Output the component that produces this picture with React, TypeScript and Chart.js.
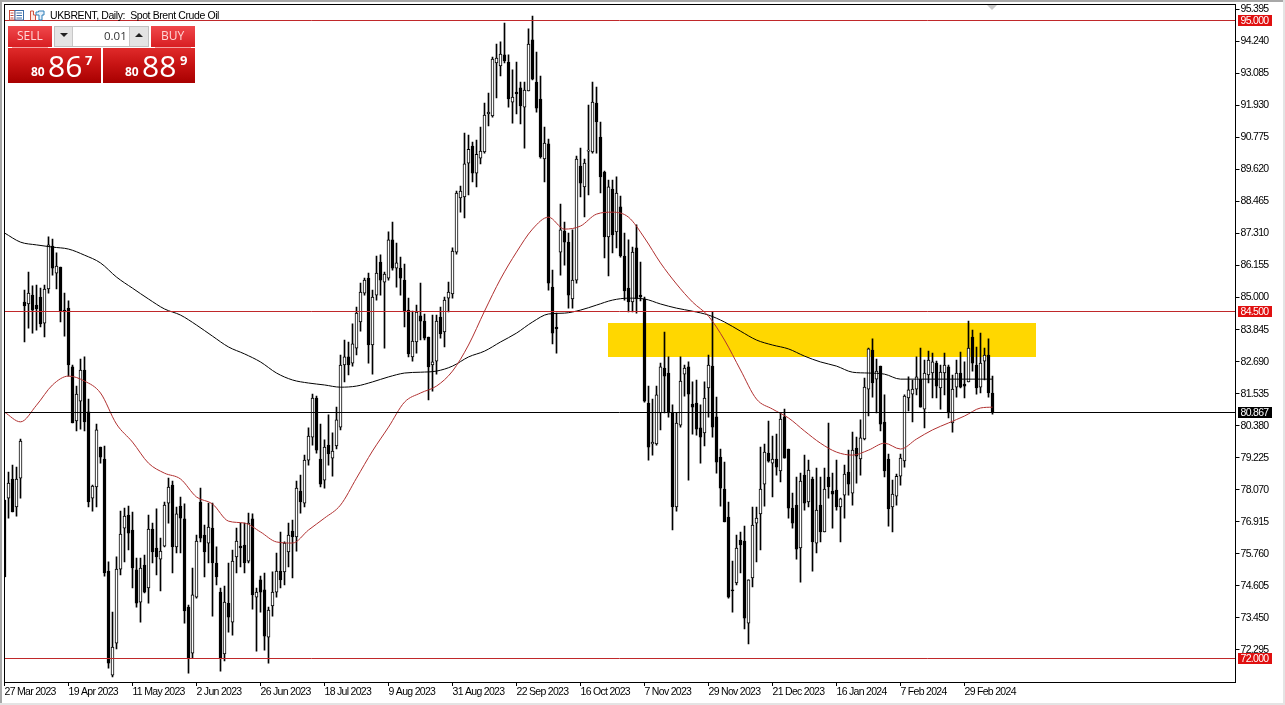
import React, { useEffect, useRef } from "react";
import { Chart, registerables } from "chart.js";

Chart.register(...registerables);

const dateTicks = ["27 Mar 2023","19 Apr 2023","11 May 2023","2 Jun 2023","26 Jun 2023","18 Jul 2023","9 Aug 2023","31 Aug 2023","22 Sep 2023","16 Oct 2023","7 Nov 2023","29 Nov 2023","21 Dec 2023","16 Jan 2024","7 Feb 2024","29 Feb 2024"];
const priceTicks = [95.395,94.24,93.085,91.93,90.775,89.62,88.465,87.31,86.155,85,83.845,82.69,81.535,80.38,79.225,78.07,76.915,75.76,74.605,73.45,72.295];

const highs = [77.70,78.71,78.96,78.89,79.90,85.27,85.92,85.42,85.45,85.34,
85.45,87.19,87.11,86.61,86.10,85.16,84.88,82.57,81.81,82.78,
82.86,81.34,78.24,80.44,79.61,79.65,75.47,73.66,75.65,77.30,
77.41,77.48,77.27,75.61,75.61,75.72,77.16,76.87,77.38,76.33,
77.63,78.49,78.38,77.45,77.81,77.56,73.91,75.25,76.44,78.13,
76.80,77.59,77.59,76.01,74.53,74.60,75.43,75.90,76.69,76.87,
76.87,77.23,77.20,74.53,74.96,75.07,73.84,75.11,75.79,76.55,
76.19,76.87,76.98,78.38,78.60,79.32,80.30,81.52,81.45,80.44,
79.87,80.77,80.12,81.05,82.93,83.47,83.40,84.05,84.66,85.52,
85.70,85.88,85.27,86.50,86.54,85.92,87.37,87.72,86.97,86.46,
86.21,84.98,84.51,84.73,85.52,84.41,83.58,84.37,84.37,84.66,
85.02,85.56,86.79,88.84,89.02,90.93,90.86,90.61,90.68,91.15,
92.01,92.37,93.67,94.14,94.22,94.90,93.75,93.21,93.49,92.77,
92.77,94.69,95.15,93.85,92.99,91.15,90.72,85.99,84.44,88.37,
87.72,87.33,87.44,90.10,90.39,89.99,91.94,92.77,92.59,91.33,
89.56,89.24,89.24,89.35,88.66,87.33,87.08,86.82,87.62,86.28,
85.02,81.81,81.34,81.81,82.64,83.76,82.86,81.13,80.84,82.86,
82.57,82.68,81.96,82.03,81.13,81.96,82.93,84.48,81.41,79.54,
79.07,77.63,75.50,76.44,76.55,76.76,74.82,77.45,77.45,79.61,
79.72,80.55,80.01,80.08,80.84,80.98,79.54,77.95,78.53,78.67,
79.32,79.14,78.53,78.85,78.53,78.85,80.48,78.67,79.14,77.77,
78.96,79.50,80.15,79.97,80.59,82.10,83.18,83.51,82.78,82.53,
81.49,79.36,78.42,78.64,79.36,81.49,82.14,82.03,82.86,83.18,
82.75,83.07,83.00,82.71,82.57,83.00,82.57,82.21,82.75,83.04,
82.68,84.15,83.83,83.22,83.72,83.18,83.51,82.17];

const opens = [77.70,77.77,78.46,77.45,78.49,84.84,84.77,85.09,84.73,85.02,
84.08,85.31,86.86,85.88,86.10,84.55,84.62,82.50,80.55,81.27,
82.39,80.88,77.77,78.17,79.61,79.18,75.14,71.39,72.54,75.21,
76.69,77.16,76.62,75.18,74.02,75.36,74.53,76.65,75.97,75.57,
76.04,77.59,78.24,76.01,77.48,77.02,73.84,72.18,74.20,77.63,
76.44,76.15,76.69,75.43,74.38,72.15,73.98,73.30,75.65,76.04,
76.08,75.50,77.02,74.20,74.82,74.46,72.76,73.88,74.38,75.14,
75.11,75.83,76.58,76.37,78.02,77.59,79.14,79.97,81.38,79.18,
78.42,79.68,79.21,79.65,80.33,82.57,82.86,82.64,83.18,84.12,
85.16,85.70,83.29,85.09,86.28,85.56,85.70,87.08,86.06,86.06,
85.63,84.55,82.86,83.40,84.34,84.15,83.58,82.57,82.71,84.30,
83.76,84.98,85.13,86.64,88.59,88.63,89.85,90.46,89.49,90.03,
90.25,91.62,91.55,93.46,93.35,93.75,93.49,92.05,92.41,92.56,
91.87,92.45,94.29,92.77,92.16,90.00,90.54,85.38,83.94,86.64,
87.40,87.00,84.95,85.63,89.74,88.99,90.28,90.25,92.01,90.79,
89.53,87.19,88.91,87.37,88.27,86.50,85.34,84.84,86.79,85.09,
84.95,81.20,79.72,79.72,80.84,82.46,82.28,80.84,77.45,80.40,
82.24,82.50,81.16,81.20,80.30,80.12,81.74,82.53,80.70,79.25,
78.10,77.09,74.46,74.71,76.26,76.22,73.26,74.89,76.87,77.20,
78.27,79.39,79.03,79.18,78.75,80.70,79.54,77.41,77.52,75.97,
78.60,77.63,78.46,76.15,77.52,76.55,78.53,78.02,78.06,77.45,
77.88,78.71,77.95,79.57,79.18,79.90,81.70,83.11,82.06,82.53,
80.51,79.18,77.45,77.84,78.56,79.11,81.38,81.52,81.70,82.06,
80.98,82.21,82.28,82.64,81.74,82.28,82.50,80.48,81.77,82.28,
81.88,81.96,83.58,82.57,81.77,82.71,82.93,81.56];

const lows = [74.93,77.05,77.27,77.12,77.77,83.40,83.90,83.72,83.83,83.94,
83.58,85.16,85.81,85.31,84.12,83.61,82.17,80.48,80.19,80.26,
80.19,77.45,77.30,77.45,79.03,74.96,71.64,71.32,72.33,75.00,
75.47,75.90,74.53,73.84,73.30,74.35,73.98,75.43,75.00,74.42,
76.01,76.87,75.07,75.79,75.79,73.26,71.46,72.00,74.16,76.19,
74.93,75.43,73.51,74.64,71.53,71.90,72.94,72.83,75.07,75.29,
75.07,75.43,73.77,72.25,73.66,72.29,71.82,73.51,74.20,74.53,
74.64,75.29,74.89,75.86,77.23,77.45,78.96,79.68,79.39,78.17,
78.13,78.96,78.56,79.54,80.23,81.96,82.21,82.53,82.93,83.79,
85.09,82.64,82.24,84.91,85.09,83.18,85.63,85.99,85.38,85.09,
83.94,82.86,82.71,83.00,83.47,83.47,81.31,81.63,82.24,83.54,
83.22,84.48,84.98,86.57,88.08,87.87,88.70,89.17,88.99,89.82,
90.21,91.19,91.51,92.20,92.99,93.46,91.87,91.29,91.62,91.26,
90.39,92.45,92.85,91.69,90.03,89.17,85.27,83.33,83.00,85.81,
86.17,84.62,84.62,85.52,88.63,87.91,88.70,90.21,90.21,88.77,
86.43,85.78,86.61,86.79,86.46,84.91,84.48,84.48,84.44,84.88,
81.23,79.14,79.32,79.68,80.23,80.84,80.69,76.62,77.30,80.33,
81.45,78.42,80.08,80.04,79.03,79.65,80.69,79.97,78.67,77.48,
76.91,74.16,73.66,74.64,75.07,73.05,72.51,74.57,75.47,75.90,
77.48,79.07,77.81,78.60,78.35,79.21,77.05,76.69,75.57,74.74,
77.34,77.45,75.14,75.79,76.19,76.55,77.77,76.69,77.34,76.19,
77.05,77.88,77.52,78.31,78.60,79.87,80.73,81.41,80.84,80.19,
78.53,76.76,76.55,77.52,78.24,78.89,80.91,80.52,81.49,81.05,
80.30,81.92,81.38,81.38,80.98,81.49,80.66,80.15,81.41,81.74,
81.38,81.96,82.35,81.52,81.56,82.03,81.41,80.80];

const closes = [74.93,78.31,77.27,78.46,79.83,84.70,85.16,84.55,84.59,84.05,
85.31,86.90,86.06,86.14,84.51,84.48,82.57,80.48,81.52,82.39,
80.52,77.63,78.20,80.23,79.25,75.07,71.82,72.40,75.21,76.47,
77.12,76.51,75.25,73.98,75.25,74.38,76.65,75.83,75.65,75.86,
77.52,78.17,76.01,77.20,77.05,73.70,72.00,74.28,76.22,76.33,
75.83,76.73,75.43,74.93,72.00,74.02,73.48,75.50,76.22,75.97,
75.43,76.87,74.28,74.38,74.38,72.79,73.73,74.38,75.14,74.82,
76.15,76.44,76.37,78.13,77.63,79.14,80.01,81.38,79.50,78.27,
79.61,79.36,79.47,80.59,82.57,82.86,82.57,83.33,84.44,85.20,
85.63,83.29,85.02,85.88,85.63,85.85,87.08,86.06,86.25,85.70,
84.48,82.97,83.43,84.48,84.15,83.54,82.50,82.68,84.15,83.69,
84.91,85.20,86.68,88.77,88.84,89.82,90.35,89.49,90.17,90.28,
91.58,91.69,93.60,93.64,93.78,93.53,92.16,92.23,92.34,91.91,
92.48,94.14,92.88,91.83,90.07,90.57,85.52,83.72,83.87,87.44,
87.00,85.09,85.63,89.99,89.13,89.85,90.32,92.05,91.33,89.35,
87.19,88.99,87.26,88.77,86.50,85.24,84.84,86.64,84.95,85.02,
81.27,79.61,79.79,81.49,82.50,82.17,80.84,77.45,80.48,81.99,
82.46,81.52,81.05,80.26,79.97,81.38,82.57,80.33,79.07,78.13,
76.91,74.20,74.42,75.97,76.08,73.44,74.82,76.80,77.05,78.10,
79.43,79.10,79.18,78.89,80.62,79.21,77.41,76.87,75.93,78.38,
77.59,78.78,76.19,77.34,76.55,78.10,78.17,77.91,77.45,77.74,
78.64,78.27,79.50,79.28,79.94,81.77,83.15,81.92,82.35,80.44,
78.75,77.38,77.92,78.56,79.21,81.45,81.67,81.70,82.14,81.05,
82.28,82.75,82.68,81.81,82.31,82.57,80.84,81.70,82.28,81.77,
81.81,83.18,82.64,81.74,82.64,82.93,81.56,80.87];

// Moving averages every fourth bar, plus the last bar.
const blackAverage = [87.33,87.00,86.90,86.82,86.75,86.53,86.25,85.74,85.34,84.95,84.59,84.37,84.01,83.61,83.22,82.97,82.68,82.28,82.03,81.92,81.85,81.77,81.81,81.96,82.14,82.28,82.31,82.35,82.53,82.86,83.07,83.40,83.72,84.12,84.41,84.44,84.55,84.73,84.91,84.98,84.95,84.77,84.62,84.51,84.37,84.12,83.79,83.47,83.29,83.15,82.89,82.68,82.53,82.31,82.28,82.24,82.06,82.06,82.06,82.06,82.06,82.06,82.06];
const redAverage = [80.87,80.52,81.12,81.85,82.17,81.99,81.56,80.44,79.79,79.03,78.67,78.46,77.81,77.56,76.94,76.87,76.55,76.19,76.15,76.62,77.05,77.52,78.49,79.47,80.33,81.23,81.56,81.81,82.35,83.29,84.51,85.67,86.64,87.47,87.90,87.47,87.58,88.01,88.08,87.90,87.15,86.25,85.49,84.84,84.33,83.47,82.39,81.34,80.98,80.66,80.19,79.75,79.43,79.32,79.50,79.75,79.54,79.90,80.23,80.48,80.73,81.02,81.05];

const levelPrices = [95, 84.5, 72];
const lastPrice = 80.867;
const zoneBars = [151, 258];
const zonePrices = [84.08, 82.86];

const SLOTS = 308;
const TICK_EVERY = 16;
const LAST_BAR = highs.length - 1;
const BLACK = "#000000";
const RED_LINE = "#c0282a";
const RED_TAG = "#e01010";
const AXIS_FONT = "'Liberation Sans'";
const AXIS_SIZE = 10.5;

const slotLabels = Array.from({ length: SLOTS }, (_, i) => String(i));
const bars = highs.map((_, i) => i);
const padSlots = (vals: number[][]) => [...vals, ...Array(SLOTS - vals.length).fill(null)];
const sampled = (vals: number[]) => {
  const out: (number | null)[] = Array(SLOTS).fill(null);
  vals.forEach((v, k) => { out[Math.min(k * 4, LAST_BAR)] = v; });
  return out;
};

const overlay = {
  id: "overlay",
  beforeDraw(chart: any) {
    chart.ctx.letterSpacing = "-0.7px";
  },
  beforeDatasetsDraw(chart: any) {
    const { ctx, scales: { x, y } } = chart;
    ctx.save();
    ctx.fillStyle = "#FFD700";
    const l = x.getPixelForValue(zoneBars[0]);
    const r = x.getPixelForValue(zoneBars[1]);
    const t = y.getPixelForValue(zonePrices[0]);
    const b = y.getPixelForValue(zonePrices[1]);
    ctx.fillRect(Math.floor(l), Math.round(t), Math.round(r - l), Math.round(b - t));
    ctx.restore();
  },
  afterDraw(chart: any) {
    const { ctx, scales: { y }, width, height } = chart;
    ctx.save();
    // area left of the frame
    ctx.fillStyle = "#ffffff";
    ctx.fillRect(0, 0, 4, height);
    // price levels
    const hLine = (p: number, col: string) => {
      const py = Math.floor(y.getPixelForValue(p)) + 0.5;
      ctx.strokeStyle = col;
      ctx.lineWidth = 1;
      ctx.beginPath();
      ctx.moveTo(4, py);
      ctx.lineTo(1235, py);
      ctx.stroke();
    };
    levelPrices.forEach((p) => hLine(p, RED_LINE));
    hLine(lastPrice, BLACK);
    // frame
    ctx.strokeStyle = BLACK;
    ctx.lineWidth = 1;
    ctx.strokeRect(4.5, 4.5, 1231, 678);
    // window edge
    ctx.fillStyle = "#a8a8a8";
    ctx.fillRect(0, 0, width, 2);
    ctx.fillRect(0, 0, 2, height);
    ctx.fillStyle = "#e4e4e4";
    ctx.fillRect(0, 703, width, 2);
    ctx.fillRect(1283, 0, 2, height);
    // shift marker
    ctx.fillStyle = "#c8c8c8";
    ctx.beginPath();
    ctx.moveTo(987, 5);
    ctx.lineTo(997, 5);
    ctx.lineTo(992, 10);
    ctx.fill();
    // price tags
    const tag = (p: number, bg: string) => {
      const py = Math.floor(y.getPixelForValue(p)) + 0.5;
      ctx.fillStyle = bg;
      ctx.fillRect(1238, Math.round(py - 5.5), 34, 11);
      ctx.fillStyle = "#ffffff";
      ctx.font = `${AXIS_SIZE}px ${AXIS_FONT}`;
      ctx.textAlign = "left";
      ctx.textBaseline = "middle";
      ctx.fillText(p.toFixed(3), 1240.5, py + 0.5);
    };
    levelPrices.forEach((p) => tag(p, RED_TAG));
    tag(lastPrice, BLACK);
    ctx.restore();
  },
};

const abs = (left: number, top: number, width: number, height: number, extra: any = {}) => ({
  position: "absolute", left, top, width, height, ...extra,
}) as React.CSSProperties;

const PANEL = "linear-gradient(#e02a2a 0%, #c81414 45%, #a80000 100%)";
const HEAD = "linear-gradient(#f0484c 0%, #d81e22 100%)";
const UI_FONT = "'Open Sans', 'Liberation Sans', sans-serif";

function Txt({ x, y, size, bold, color = "#ffffff", children }: any) {
  return (
    <div style={{ position: "absolute", left: x, top: y, fontSize: size, lineHeight: 1, fontWeight: bold ? 700 : 400, color, fontFamily: UI_FONT, whiteSpace: "pre" }}>
      {children}
    </div>
  );
}

export default function App() {
  const ref = useRef<HTMLCanvasElement | null>(null);
  useEffect(() => {
    if (!ref.current) return;
    const chart = new Chart(ref.current, {
      type: "bar",
      data: {
        labels: slotLabels,
        datasets: [
          {
            type: "line", data: sampled(redAverage), borderColor: "#b03030", borderWidth: 1,
            pointRadius: 0, spanGaps: true, cubicInterpolationMode: "monotone", order: 1,
          },
          {
            type: "line", data: sampled(blackAverage), borderColor: BLACK, borderWidth: 1,
            pointRadius: 0, spanGaps: true, cubicInterpolationMode: "monotone", order: 1,
          },
          {
            type: "bar", data: padSlots(bars.map((i) => [opens[i], closes[i]])), grouped: false, barThickness: 3,
            backgroundColor: bars.map((i) => (closes[i] >= opens[i] ? "#ffffff" : BLACK)),
            borderColor: BLACK, borderWidth: 1, borderSkipped: false, order: 2,
          },
          {
            type: "bar", data: padSlots(bars.map((i) => [lows[i], highs[i]])), grouped: false, barThickness: 1,
            backgroundColor: BLACK, order: 3,
          },
        ],
      } as any,
      options: {
        responsive: false,
        animation: false,
        events: [],
        layout: { padding: { left: 2.5, top: 4, right: 0, bottom: 0 } },
        plugins: { legend: { display: false }, tooltip: { enabled: false }, title: { display: false } },
        scales: {
          x: {
            type: "category",
            offset: true,
            border: { display: false },
            grid: { drawOnChartArea: false, drawTicks: true, tickLength: 4, color: BLACK, offset: false },
            ticks: {
              autoSkip: false, maxRotation: 0, minRotation: 0, align: "start", padding: 0,
              color: BLACK, font: { family: AXIS_FONT, size: AXIS_SIZE },
              callback: (v: any) => dateTicks[Number(v) / TICK_EVERY],
            },
            afterBuildTicks: (s: any) => {
              s.ticks = s.ticks.filter((t: any) => t.value % TICK_EVERY === 0 && t.value / TICK_EVERY < dateTicks.length);
            },
            afterFit: (s: any) => { s.height = 23; s.paddingLeft = 0; s.paddingRight = 0; },
          },
          y: {
            type: "linear",
            position: "right",
            min: 71.14,
            max: 95.586,
            border: { display: false },
            grid: { drawOnChartArea: false, drawTicks: true, tickLength: 5, color: BLACK },
            ticks: {
              autoSkip: false, padding: 1, color: BLACK,
              font: { family: AXIS_FONT, size: AXIS_SIZE },
              callback: (v: any) => Number(v).toFixed(3),
            },
            afterBuildTicks: (s: any) => { s.ticks = priceTicks.map((value) => ({ value })); },
            afterFit: (s: any) => { s.width = 50.5; s.paddingTop = 0; s.paddingBottom = 0; },
          },
        },
      } as any,
      plugins: [overlay],
    });
    return () => chart.destroy();
  }, []);

  return (
    <div style={{ position: "fixed", inset: 0, width: 1285, height: 705, background: "#ffffff", overflow: "hidden" }}>
      <canvas ref={ref} width={1285} height={705} style={{ display: "block", position: "absolute", left: 0, top: 0 }} />

      <svg style={abs(9, 10, 37, 11)} viewBox="0 0 37 11">
        <rect x="0.5" y="0.5" width="5.5" height="9.5" fill="#fff" stroke="#c84a3a" />
        <rect x="6" y="0.5" width="8.5" height="9.5" fill="#fff" stroke="#3a6ea8" />
        <path d="M1.5 3h3M1.5 5.5h3M1.5 8h3" stroke="#c84a3a" />
        <path d="M7.5 3h5.5M7.5 5.5h5.5M7.5 8h5.5" stroke="#3a6ea8" />
        <path d="M21.5 10V1h3v4h2V10" fill="#fde8e4" stroke="#d0503c" />
        <path d="M27 5V2h2.5V1H35v4h-2v5h-3V5z" fill="#e6f0fa" stroke="#2f7fb8" />
      </svg>
      <div style={{ position: "absolute", left: 50, top: 9, fontSize: 10.5, letterSpacing: "-0.4px", lineHeight: "13px", color: "#000", fontFamily: "'Liberation Sans'", whiteSpace: "pre" }}>
        UKBRENT, Daily:  Spot Brent Crude Oil
      </div>

      <div style={abs(8, 26, 44, 21, { background: HEAD })} />
      <div style={abs(12, 47, 36, 1, { background: "#f4a0a0", zIndex: 2 })} />
      <Txt x={17} y={30} size={12} color="#ffd8d8">SELL</Txt>

      <div style={abs(151, 26, 44, 21, { background: HEAD })} />
      <div style={abs(155, 47, 36, 1, { background: "#f4a0a0", zIndex: 2 })} />
      <Txt x={161} y={30} size={12} color="#ffd8d8">BUY</Txt>

      <div style={abs(54, 26, 95, 21, { background: "#ffffff", border: "1px solid #c0c0c0", boxSizing: "border-box" })} />
      <div style={abs(55, 27, 18, 19, { background: "#e4e4e4", borderRight: "1px solid #c8c8c8", boxSizing: "border-box" })} />
      <div style={abs(129, 27, 19, 19, { background: "#e4e4e4", borderLeft: "1px solid #c8c8c8", boxSizing: "border-box" })} />
      <svg style={abs(60, 33, 8, 5)} viewBox="0 0 8 5"><path d="M0 0h8L4 4z" fill="#222" /></svg>
      <svg style={abs(135, 33, 8, 5)} viewBox="0 0 8 5"><path d="M0 4h8L4 0z" fill="#222" /></svg>
      <Txt x={104} y={30} size={11.5} color="#333333">0.01</Txt>

      <div style={abs(8, 48, 93, 35, { background: PANEL })} />
      <Txt x={31} y={66} size={12} bold>80</Txt>
      <Txt x={48} y={51} size={30}>86</Txt>
      <Txt x={85} y={54} size={13} bold>7</Txt>

      <div style={abs(103, 48, 92, 35, { background: PANEL })} />
      <Txt x={125} y={66} size={12} bold>80</Txt>
      <Txt x={142} y={51} size={30}>88</Txt>
      <Txt x={180} y={54} size={13} bold>9</Txt>
    </div>
  );
}
